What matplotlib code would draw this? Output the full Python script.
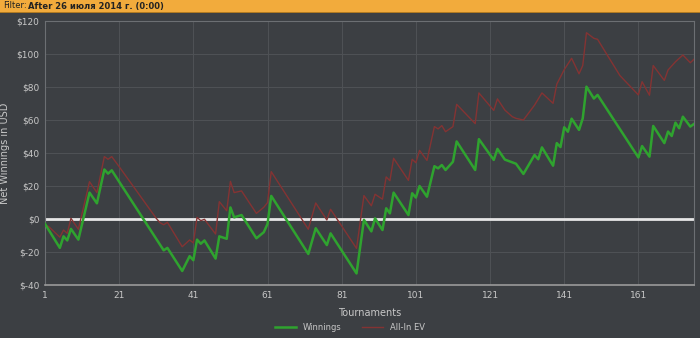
import matplotlib.pyplot as plt
from matplotlib.patches import Rectangle

# tournament number / net winnings at the turning points of each line
win_t = [1, 5, 6, 7, 8, 10, 13, 15, 17, 18, 19, 33, 34, 38, 40, 41, 42, 43, 44, 47, 48, 50,
         51, 52, 54, 58, 60, 61, 62, 72, 74, 77, 78, 85, 87, 89, 90, 92, 93, 94, 95, 99, 100,
         101, 102, 104, 106, 107, 108, 109, 111, 112, 117, 118, 122, 123, 125, 128, 130, 133,
         134, 135, 138, 139, 140, 141, 142, 143, 145, 146, 147, 149, 150, 161, 162, 164, 165,
         168, 169, 170, 171, 172, 173, 175, 176]
win_v = [-3, -17.5, -10.5, -13, -6, -12.5, 16, 9.5, 30, 27.5, 29.5, -19, -17.5, -31.5, -22.5,
         -25, -12.5, -15, -13, -24, -10.5, -12, 7, 1, 2.4, -11.7, -8, -3, 14, -21.2, -5.6,
         -15.8, -8.7, -33, -0.5, -7.5, 0.4, -6.7, 6.5, 3.4, 16, 2.4, 15.6, 13, 20, 13.5, 32,
         30.7, 32.7, 29.7, 34.7, 47, 29.7, 48.4, 35.8, 42.5, 36, 33.5, 27.3, 38.8, 36.2, 43.4,
         32.3, 46, 43.6, 55.6, 52.9, 60.8, 54, 61, 80.2, 73, 75.2, 37.3, 44.2, 37.8, 56.4, 46,
         53, 50.3, 58.4, 55, 62, 56, 57.6]

ev_t = [1, 2, 5, 6, 7, 8, 10, 13, 15, 17, 18, 19, 21, 31, 32, 33, 34, 38, 40, 41, 42, 43, 44,
        47, 48, 50, 51, 52, 54, 58, 60, 61, 62, 72, 74, 77, 78, 85, 87, 89, 90, 92, 93, 94, 95,
        99, 100, 101, 102, 104, 106, 107, 108, 109, 111, 112, 117, 118, 122, 123, 125, 127,
        128, 130, 133, 135, 138, 139, 141, 143, 145, 146, 147, 149, 150, 156, 161, 162, 164,
        165, 168, 169, 171, 173, 175, 176]
ev_v = [-3.6, -4.6, -11, -6.7, -8.7, 0.4, -6.2, 22.6, 16, 37.8, 36.2, 37.8, 31.7, 0.4, -2.2,
        -3.5, -2, -16.8, -12.7, -14.5, 1, -1, -0.2, -9.1, 10.5, 5, 22.8, 16, 17, 3.4, 7.1, 9.9,
        28.7, -6.2, 9.7, -0.6, 5.9, -17.8, 14.2, 8, 15, 12, 25.5, 23.2, 36.8, 23.4, 36.2, 34.1,
        41.6, 35.5, 56, 54.6, 56.6, 52.9, 56, 69.5, 57.8, 76.4, 65.8, 72.8, 66, 62, 61, 60, 69,
        76.4, 70.1, 81.7, 90.5, 97.4, 88, 93, 112.9, 109.5, 108.9, 87, 75.2, 83.2, 75, 93, 84,
        90.3, 95.3, 99.4, 94.7, 96.8]

x_ticks = [1, 21, 41, 61, 81, 101, 121, 141, 161]
y_ticks = [-40, -20, 0, 20, 40, 60, 80, 100, 120]

bg = '#3c3f43'
txt = '#c8c8c8'

fig = plt.figure(figsize=(7, 3.38), dpi=100, facecolor=bg)
ax = fig.add_axes([45 / 700, 1 - 285 / 338, 649 / 700, 264 / 338])
ax.set_facecolor(bg)

ax.plot(win_t, win_v, color='#2fa32f', lw=1.8, zorder=4, label='Winnings')
ax.plot(ev_t, ev_v, color='#843333', lw=1.0, zorder=3, label='All-In EV')
ax.axhline(0, color='#e6e6e6', lw=2, zorder=2)

ax.set_xlim(1, 176)
ax.set_ylim(-40, 120)
ax.set_xticks(x_ticks)
ax.set_yticks(y_ticks)
ax.set_yticklabels(['$' + str(v) for v in y_ticks])
ax.tick_params(colors=txt, labelsize=6.5, length=0, pad=4)
ax.set_axisbelow(True)
ax.grid(True, color='#4f5256', lw=0.7)
for s in ax.spines.values():
    s.set_color('#6c6f73')
    s.set_linewidth(0.8)
ax.spines['bottom'].set_color('#9a9a9a')
ax.spines['bottom'].set_linewidth(1.2)

ax.set_xlabel('Tournaments', color=txt, fontsize=7, labelpad=6)
ax.set_ylabel('Net Winnings in USD', color=txt, fontsize=7)
ax.yaxis.set_label_coords(-35 / 649, 0.5)

# filter banner
fig.patches.append(Rectangle((0, 1 - 12 / 338), 1, 12 / 338, transform=fig.transFigure,
                             facecolor='#f2ab3c', edgecolor='none'))
fig.patches.append(Rectangle((0, 1 - 13 / 338), 1, 1 / 338, transform=fig.transFigure,
                             facecolor='#b07a22', edgecolor='none'))
fig.text(3 / 700, 1 - 6 / 338, 'Filter:', fontsize=6, color='#222222', va='center')
fig.text(28 / 700, 1 - 6 / 338, 'After 26 июля 2014 г. (0:00)', fontsize=6,
         color='#222222', va='center', fontweight='bold')

fig.legend(loc='center', bbox_to_anchor=(350 / 700, 1 - 327 / 338), ncol=2, frameon=False,
           fontsize=6, labelcolor=txt, handlelength=2.5, columnspacing=2.5)

fig.savefig('out.png', dpi=100, facecolor=bg)
